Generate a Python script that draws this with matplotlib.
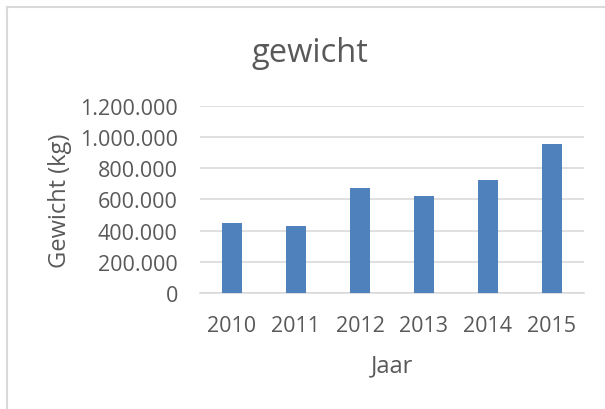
import matplotlib
matplotlib.use("Agg")
import matplotlib.pyplot as plt
from matplotlib.ticker import FuncFormatter, MultipleLocator
from matplotlib.lines import Line2D

years = ["2010", "2011", "2012", "2013", "2014", "2015"]
gewicht = [448000, 431000, 670000, 621000, 726000, 954000]
title = "gewicht"
ylabel = "Gewicht (kg)"
xlabel = "Jaar"

TXT = "#595959"
GRID = "#d9d9d9"
BAR = "#4f81bd"
FONT = ["Open Sans", "DejaVu Sans"]
plt.rcParams["font.family"] = FONT

W, H = 605, 410
fig = plt.figure(figsize=(W / 100, H / 100), dpi=100)
fig.patch.set_facecolor("white")

# outer chart border (only left and top visible)
fig.add_artist(Line2D([6.5 / W, 6.5 / W], [0, 1 - 7.5 / H], transform=fig.transFigure,
                      color=GRID, lw=1.5))
fig.add_artist(Line2D([6.5 / W, 1], [1 - 7.5 / H, 1 - 7.5 / H], transform=fig.transFigure,
                      color=GRID, lw=1.5))

ax = fig.add_axes([200 / W, 1 - 294 / H, 384 / W, 187.3 / H])
x = list(range(len(years)))
ax.bar(x, gewicht, width=0.31, color=BAR, zorder=3)
ax.set_xlim(-0.5, len(years) - 0.5)
ax.set_ylim(0, 1200000)
ax.yaxis.set_major_locator(MultipleLocator(200000))
ax.yaxis.set_major_formatter(FuncFormatter(lambda v, p: f"{int(round(v)):,}".replace(",", ".")))
ax.set_xticks(x)
ax.set_xticklabels(years)
ax.grid(axis="y", color=GRID, lw=1.2, zorder=0)
for s in ["top", "right", "left"]:
    ax.spines[s].set_visible(False)
ax.spines["bottom"].set_color(GRID)
ax.spines["bottom"].set_linewidth(1.2)
ax.tick_params(axis="both", length=0, labelsize=15.5, labelcolor=TXT)
ax.tick_params(axis="y", pad=16)
ax.tick_params(axis="x", pad=16)
ax.set_facecolor("white")

fig.text(310 / W, 1 - 53 / H, title, ha="center", va="center", fontsize=23.5, color=TXT)
fig.text(60 / W, 1 - 201 / H, ylabel, ha="center", va="center", rotation=90,
         fontsize=17, color=TXT)
fig.text(392 / W, 1 - 366 / H, xlabel, ha="center", va="center", fontsize=17, color=TXT)

fig.savefig("out.png", dpi=100, facecolor="white")
